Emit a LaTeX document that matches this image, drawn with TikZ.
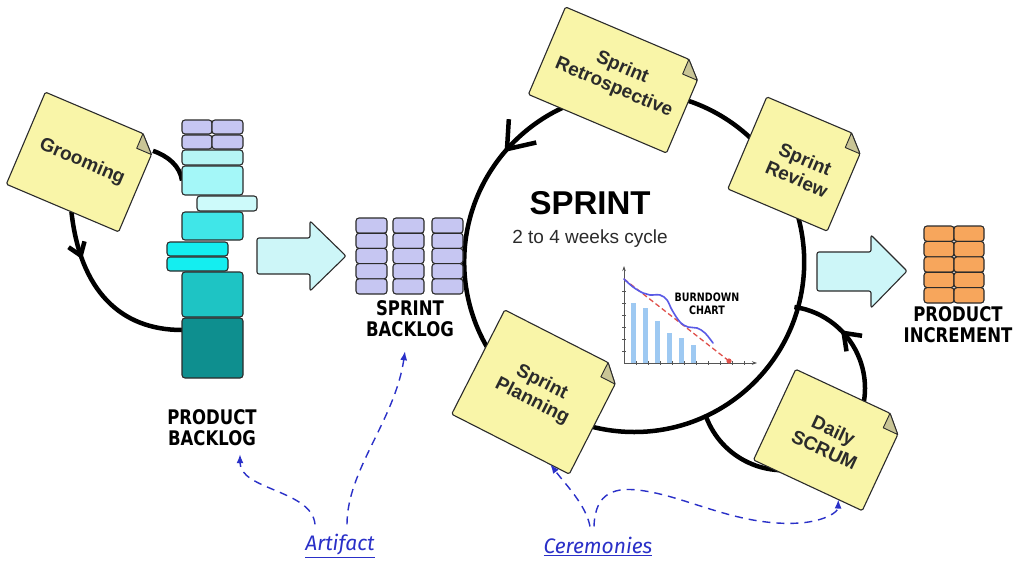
\documentclass[tikz,border=0pt]{standalone}
\usepackage{fontspec}
\setmainfont{Liberation Sans}
\newfontfamily\catfont{Fira Sans}
\newfontfamily\stampfont{DejaVu Sans}
\usetikzlibrary{arrows.meta,calc,fit,backgrounds,decorations.markings}

\definecolor{paper}{HTML}{F9F5A8}
\definecolor{paperfold}{HTML}{C9C596}
\definecolor{ink}{HTML}{2B2B2B}
\definecolor{purp}{HTML}{C6C6F2}
\definecolor{orng}{HTML}{F7A65C}
\definecolor{arrowfill}{HTML}{CDF6F8}
\definecolor{linkblue}{HTML}{2A30C8}
\definecolor{barblue}{HTML}{9EC9F2}
\definecolor{curveblue}{HTML}{5A5AE6}
\definecolor{dashred}{HTML}{E0504A}
\definecolor{cyA}{HTML}{B6F5F5}
\definecolor{cyB}{HTML}{A4F7F8}
\definecolor{cyC}{HTML}{CDFAFA}
\definecolor{cyD}{HTML}{40E6E8}
\definecolor{cyE}{HTML}{14EEF0}
\definecolor{cyF}{HTML}{1EC4C4}
\definecolor{cyG}{HTML}{0E8F8F}

\tikzset{
  loopline/.style={line width=4.5pt, draw=black},
  barbat/.style n args={3}{postaction={decorate}, decoration={markings,
      mark=at position #1 with {\arrow{Straight Barb[length=#2,width=#3]}}}},
  paperstyle/.style={fill=paper, draw=ink, line width=1.1pt, line join=round, rounded corners=1.5pt},
  foldstyle/.style={fill=paperfold, draw=ink, line width=0.9pt, line join=round},
  noteframe/.style={inner sep=0pt, outer sep=0pt},
  notetext/.style={font=\bfseries\fontsize{19}{21.5}\selectfont, align=center, text=ink},
  blockstyle/.style={draw=ink, line width=1.1pt, rounded corners=3pt, inner sep=0pt, outer sep=0pt},
  bigarrow/.style={fill=arrowfill, draw=ink, line width=1.1pt, rounded corners=2pt},
  comic/.style={font=\stampfont\bfseries\fontsize{16.5}{17}\selectfont, align=center, yscale=1.22, inner sep=0pt, text=black},
  catlabel/.style={font=\catfont\itshape\fontsize{21}{23}\selectfont, text=linkblue, inner sep=0pt},
  refline/.style={draw=linkblue, line width=1.4pt, dash pattern=on 8pt off 6pt, -{Latex[length=9pt,width=7pt]}},
  axis/.style={draw=ink!80, line width=0.8pt}
}

% sticky note: name, x, y, angle, width, height
\newcommand\stickynote[6]{%
  \node[noteframe, rotate=#4, minimum width=#5pt, minimum height=#6pt] (#1) at (#2,#3) {};
  \draw[paperstyle] (#1.north west) -- ($(#1.north east)!16pt!(#1.north west)$) coordinate (#1-fa)
    -- ($(#1.north east)!16pt!(#1.south east)$) coordinate (#1-fb)
    -- (#1.south east) -- (#1.south west) -- cycle;
  \draw[foldstyle] (#1-fa) -- ($(#1-fa)+(#1-fb)-(#1.north east)$) -- (#1-fb) -- cycle;
}

% backlog block: name, x1, y1, x2, y2, colour
\newcommand\blk[6]{%
  \node[blockstyle, fill=#6, fit={(#2,-#3) (#4,-#5)}] (#1) {};
}

\begin{document}
\begin{tikzpicture}[x=1pt, y=1pt]
\useasboundingbox (0,0) rectangle (1014,-560);

% sprint cycle
\node[circle, minimum size=340pt, inner sep=0pt] (sprint) at (634,-262) {};

% product backlog stack
\blk{pb1a}{182}{120}{212}{134}{purp}
\blk{pb1b}{212}{120}{243}{134}{purp}
\blk{pb2a}{182}{135}{212}{149}{purp}
\blk{pb2b}{212}{135}{243}{149}{purp}
\blk{pb3}{182}{150}{243}{165}{cyA}
\blk{pb4}{182}{166}{243}{195}{cyB}
\blk{pb5}{197}{196}{257}{211}{cyC}
\blk{pb6}{182}{212}{243}{240}{cyD}
\blk{pb7a}{167}{242}{228}{256}{cyE}
\blk{pb7b}{167}{257}{228}{271}{cyE}
\blk{pb8}{182}{272}{243}{317}{cyF}
\blk{pb9}{182}{318}{243}{378}{cyG}

% sprint backlog
\foreach \c/\xa/\xb in {1/356/387,2/393/424,3/432/463}{
  \foreach \r in {0,...,4}{
    \pgfmathsetmacro\ya{218+15.2*\r}
    \pgfmathsetmacro\yb{\ya+15.2}
    \node[blockstyle, fill=purp, fit={(\xa,-\ya) (\xb,-\yb)}] (sb-\c-\r) {};
  }
}

% product increment
\foreach \c/\xa/\xb in {1/924/954,2/954/984}{
  \foreach \r in {0,...,4}{
    \pgfmathsetmacro\ya{226+15.4*\r}
    \pgfmathsetmacro\yb{\ya+15.4}
    \node[blockstyle, fill=orng, fit={(\xa,-\ya) (\xb,-\yb)}] (pi-\c-\r) {};
  }
}

% block arrows
\draw[bigarrow] (257,-238) -- (310,-238) -- (310,-221) -- (346,-256) -- (310,-291) -- (310,-274) -- (257,-274) -- cycle;
\draw[bigarrow] (817,-252) -- (871,-252) -- (871,-235) -- (907,-271) -- (871,-308) -- (871,-291) -- (817,-291) -- cycle;

% sticky notes
\stickynote{groom}{82}{-162}{-23}{122}{100}
\stickynote{retro}{616}{-80}{-23}{150}{95}
\stickynote{review}{797}{-164}{-23}{108}{100}
\stickynote{plan}{537}{-392}{-27}{132}{117}
\stickynote{daily}{829}{-440}{-25}{120}{100}

\node[notetext, rotate=-23] (groomtext) at (groom.center) {Grooming};
\node[notetext, rotate=-23] (retrotext) at ([shift={(2pt,2pt)}]retro.center) {Sprint\\Retrospective};
\node[notetext, rotate=-23] (reviewtext) at ([shift={(4pt,-5pt)}]review.center) {Sprint\\Review};
\node[notetext, rotate=-27] (plantext) at (plan.center) {Sprint\\Planning};
\node[notetext, rotate=-25] (dailytext) at (daily.center) {Daily\\SCRUM};

% sprint title
\node[font=\bfseries\fontsize{33}{36}\selectfont, text=black, inner sep=0pt] (sprinttitle) at (590,-203) {SPRINT};
\node[font=\fontsize{19}{21}\selectfont, text=ink, anchor=base, inner sep=0pt] (cycle) at (590,-243) {2 to 4 weeks cycle};

% burndown chart
\foreach \bx/\bt in {631/303,643/308,655/321,667/333,679/338,691/345}
  \fill[barblue] (\bx,-363) rectangle (\bx+5,-\bt);
\foreach \yy in {351,339,327,315,303,291}
  \draw[axis, line width=0.6pt] (622,-\yy) -- (626,-\yy);
\foreach \xx in {636,648,...,744}
  \draw[axis, line width=0.6pt] (\xx,-361) -- (\xx,-365);
\draw[axis, -{Stealth[length=5pt,width=3.5pt]}] (624,-363) -- (624,-266);
\draw[axis, -{Stealth[length=5pt,width=3.5pt]}] (624,-363) -- (757,-363);
\draw[dashred, line width=1.3pt, dash pattern=on 5pt off 3pt] (624,-279) -- (729,-361);
\fill[dashred] (729,-361) circle (2.6);
\draw[curveblue, line width=1.6pt, line cap=round] plot[smooth, tension=0.6] coordinates {(624,-279) (633,-287) (643,-293) (650,-295) (660,-295) (667,-300) (672,-310) (680,-322) (688,-327) (697,-328) (705,-333) (713,-343)};
\node[comic, font=\stampfont\bfseries\fontsize{9.5}{11}\selectfont] (bdlabel) at (707,-304) {BURNDOWN\\CHART};

% artefact labels
\node[comic] (pblabel) at (212,-428) {PRODUCT\\BACKLOG};
\node[comic] (sblabel) at (410,-319) {SPRINT\\BACKLOG};
\node[comic] (pilabel) at (958,-325) {PRODUCT\\INCREMENT};

% category labels
\node[catlabel] (art) at (340,-546) {\underline{Artifact}};
\node[catlabel] (cer) at (598,-546) {\underline{Ceremonies}};

% dashed references
\draw[refline] ([xshift=-25pt,yshift=10pt]art.north) .. controls (312,-490) and (240,-490) .. ([xshift=28pt,yshift=-8pt]pblabel.south);
\draw[refline] ([xshift=7pt,yshift=10pt]art.north) .. controls (347,-470) and (395,-420) .. ([xshift=-5pt,yshift=-14pt]sblabel.south);
\draw[refline] ([xshift=-8pt,yshift=10pt]cer.north) .. controls (586,-505) and (566,-485) .. ($(plan.south west)!0.84!(plan.south east)$);
\draw[refline] ([xshift=-4pt,yshift=10pt]cer.north) .. controls (595,-492) and (615,-486) .. (645,-491)
  .. controls (690,-498) and (740,-527) .. (800,-523)
  .. controls (825,-521) and (838,-512) .. ($(daily.south west)!0.78!(daily.south east)$);

% cycle lines behind everything
\begin{scope}[on background layer]
  \fill[white] (0,0) rectangle (1014,-560);
  \draw[loopline, barbat={0.388}{24pt}{36pt}] (sprint.0) arc[start angle=0, end angle=360, radius=170];
  \draw[loopline, barbat={0.847}{15pt}{22pt}] (sprint.-65) arc[start angle=200, end angle=442, radius=82];
  \draw[loopline] ($(groom.north east)!0.12!(groom.south east)$) .. controls (168,-156) and (180,-166) .. (pb4.west);
  \draw[loopline, barbat={0.27}{12pt}{17pt}] ($(groom.south west)!0.58!(groom.south east)$) .. controls (80,-290) and (120,-330) .. ($(pb9.north west)!0.2!(pb9.south west)$);
\end{scope}
\end{tikzpicture}
\end{document}
